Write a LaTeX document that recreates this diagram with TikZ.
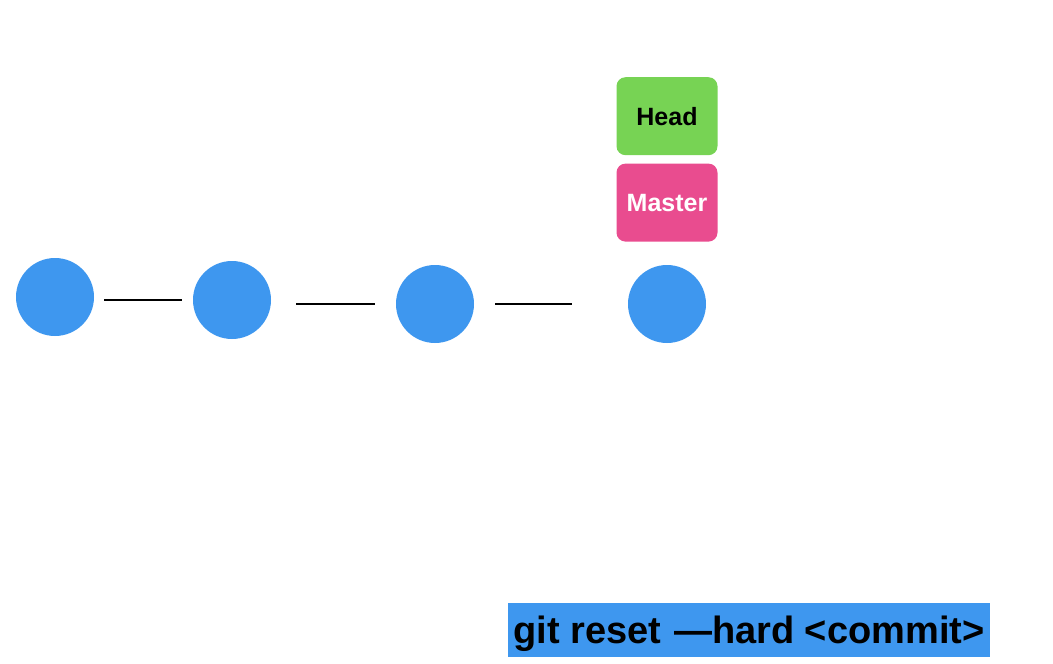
\documentclass[tikz,border=0pt]{standalone}
\usepackage{fontspec}
\setmainfont{Liberation Sans}
\usepackage{xcolor}
\usetikzlibrary{positioning}

\definecolor{commitblue}{HTML}{3E97EF}
\definecolor{headgreen}{HTML}{77D354}
\definecolor{masterpink}{HTML}{E94C8F}

\begin{document}
\begin{tikzpicture}[x=1pt,y=-1pt,
  commit/.style={circle,fill=commitblue,minimum size=78pt,inner sep=0pt},
  pointer/.style={rounded corners=9pt,minimum width=101pt,minimum height=78pt,inner sep=0pt,
    font=\fontsize{25}{30}\selectfont\bfseries},
  link/.style={line width=1.8pt,black}]
\useasboundingbox (0,0) rectangle (1053,664);
% commits
\node[commit] (c1) at (55,297) {};
\node[commit] (c2) at (232,300) {};
\node[commit] (c3) at (435,304) {};
\node[commit] (c4) at (667,304) {};
\draw[link,shorten <=49pt,shorten >=11pt] (c1 |- c2) -- (c2);
\draw[link,shorten <=64pt,shorten >=21pt] (c2 |- c3) -- (c3);
\draw[link,shorten <=21pt,shorten >=56pt] (c3) -- (c4);
% branch labels
\node[pointer,fill=masterpink,text=white,above=23pt of c4] (master) {Master};
\node[pointer,fill=headgreen,text=black,above=8pt of master] (head) {Head};
% command
\node[fill=commitblue,minimum width=482pt,minimum height=54pt,inner sep=0pt,
  text height=34pt,text depth=8pt,
  font=\fontsize{38}{44}\selectfont\bfseries] (cmd) at (749,630) {git reset\,\,—hard <commit>};
\end{tikzpicture}
\end{document}
